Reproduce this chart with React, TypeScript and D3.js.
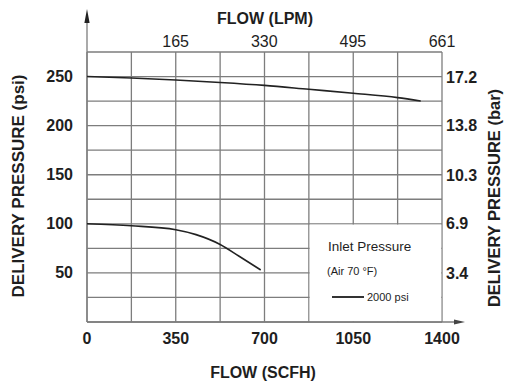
import React from "react";
import * as d3 from "d3";

const W = 505;
const H = 383;

// Data
const upperCurve: [number, number][] = [
  [0, 250], [175, 248.5], [350, 246.5], [525, 244], [700, 241],
  [875, 237], [1050, 233], [1225, 228.5], [1316, 225],
];
const lowerCurve: [number, number][] = [
  [0, 100], [175, 98], [350, 94], [430, 89], [525, 79], [600, 67], [685, 53],
];
const bottomTicks = [0, 350, 700, 1050, 1400];
const topTicks = [165, 330, 495, 661];
const leftTicks = [50, 100, 150, 200, 250];
const rightTicks = [3.4, 6.9, 10.3, 13.8, 17.2];
const xGrid = d3.range(0, 1401, 175);
const yGrid = d3.range(0, 276, 25);

const FONT = "'Liberation Sans', Arial, Helvetica, sans-serif";

export default function App() {
  const x = d3.scaleLinear().domain([0, 1400]).range([87, 442]);
  const y = d3.scaleLinear().domain([0, 275]).range([322, 52]);
  const xTop = d3.scaleLinear().domain([0, 661]).range([x(0), x(1400)]);
  const yBar = d3.scaleLinear().domain([0, 275 * 0.0689476]).range([322, 52]);

  const line = d3
    .line<[number, number]>()
    .x((d) => x(d[0]))
    .y((d) => y(d[1]))
    .curve(d3.curveMonotoneX);

  const gridColor = "#7d7d7d";
  const textColor = "#1e1e1e";

  return (
    <svg
      width={W}
      height={H}
      viewBox={`0 0 ${W} ${H}`}
      style={{ position: "absolute", left: 0, top: 0, background: "#fff" }}
      fontFamily={FONT}
    >
      <rect x={0} y={0} width={W} height={H} fill="#fff" />
      {/* grid */}
      <g stroke={gridColor} strokeWidth={1.3}>
        {xGrid.map((v) => (
          <line key={"gx" + v} x1={x(v)} x2={x(v)} y1={y(275)} y2={y(0)} />
        ))}
        {yGrid.map((v) => (
          <line key={"gy" + v} x1={x(0)} x2={x(1400)} y1={y(v)} y2={y(v)} />
        ))}
      </g>
      {/* legend box (covers grid) */}
      <rect
        x={x(875) + 0.8}
        y={y(100) + 0.8}
        width={x(1400) - x(875) - 1.6}
        height={y(0) - y(100) - 1.6}
        fill="#fff"
      />
      {/* axes with arrows */}
      <g stroke={gridColor} strokeWidth={1.3}>
        <line x1={x(0)} x2={x(0)} y1={y(0)} y2={14} />
        <line x1={x(0)} x2={458} y1={y(0)} y2={y(0)} />
      </g>
      <path d={`M${x(0)},9 L${x(0) + 2.6},23 L${x(0) - 2.6},23 Z`} fill="#222" />
      <path d={`M465,${y(0)} L454,${y(0) - 2.6} L454,${y(0) + 2.6} Z`} fill="#444" />

      {/* curves */}
      <path d={line(upperCurve) || ""} fill="none" stroke="#222" strokeWidth={1.6} />
      <path d={line(lowerCurve) || ""} fill="none" stroke="#222" strokeWidth={1.6} />

      {/* left ticks */}
      <g fontSize={16} fontWeight="bold" fill={textColor} textAnchor="end">
        {leftTicks.map((v) => (
          <text key={"l" + v} x={73} y={y(v) + 5.5}>
            {v}
          </text>
        ))}
      </g>
      {/* right ticks */}
      <g fontSize={16} fontWeight="bold" fill={textColor} textAnchor="start">
        {rightTicks.map((v) => (
          <text key={"r" + v} x={446} y={yBar(v) + 5.5}>
            {v.toFixed(1)}
          </text>
        ))}
      </g>
      {/* bottom ticks */}
      <g fontSize={16} fontWeight="bold" fill={textColor} textAnchor="middle">
        {bottomTicks.map((v) => (
          <text key={"b" + v} x={x(v)} y={344}>
            {v}
          </text>
        ))}
      </g>
      {/* top ticks */}
      <g fontSize={16} fill={textColor} textAnchor="middle">
        {topTicks.map((v) => (
          <text key={"t" + v} x={xTop(v)} y={47}>
            {v}
          </text>
        ))}
      </g>

      {/* titles */}
      <text x={265} y={24} fontSize={16} fontWeight="bold" fill={textColor} textAnchor="middle">
        FLOW (LPM)
      </text>
      <text x={263} y={378} fontSize={16} fontWeight="bold" fill={textColor} textAnchor="middle">
        FLOW (SCFH)
      </text>
      <text
        transform={`translate(24,186) rotate(-90)`}
        fontSize={17}
        fontWeight="bold"
        fill={textColor}
        textAnchor="middle"
      >
        DELIVERY PRESSURE (psi)
      </text>
      <text
        transform={`translate(500,198) rotate(-90)`}
        fontSize={16.5}
        fontWeight="bold"
        fill={textColor}
        textAnchor="middle"
      >
        DELIVERY PRESSURE (bar)
      </text>

      {/* legend */}
      <text x={328} y={251} fontSize={13.5} fill={textColor}>
        Inlet Pressure
      </text>
      <text x={327} y={275} fontSize={11} fill={textColor}>
        (Air 70 °F)
      </text>
      <line x1={332} x2={364} y1={297} y2={297} stroke="#333" strokeWidth={2} />
      <text x={367} y={300.5} fontSize={11} fill={textColor}>
        2000 psi
      </text>
    </svg>
  );
}
